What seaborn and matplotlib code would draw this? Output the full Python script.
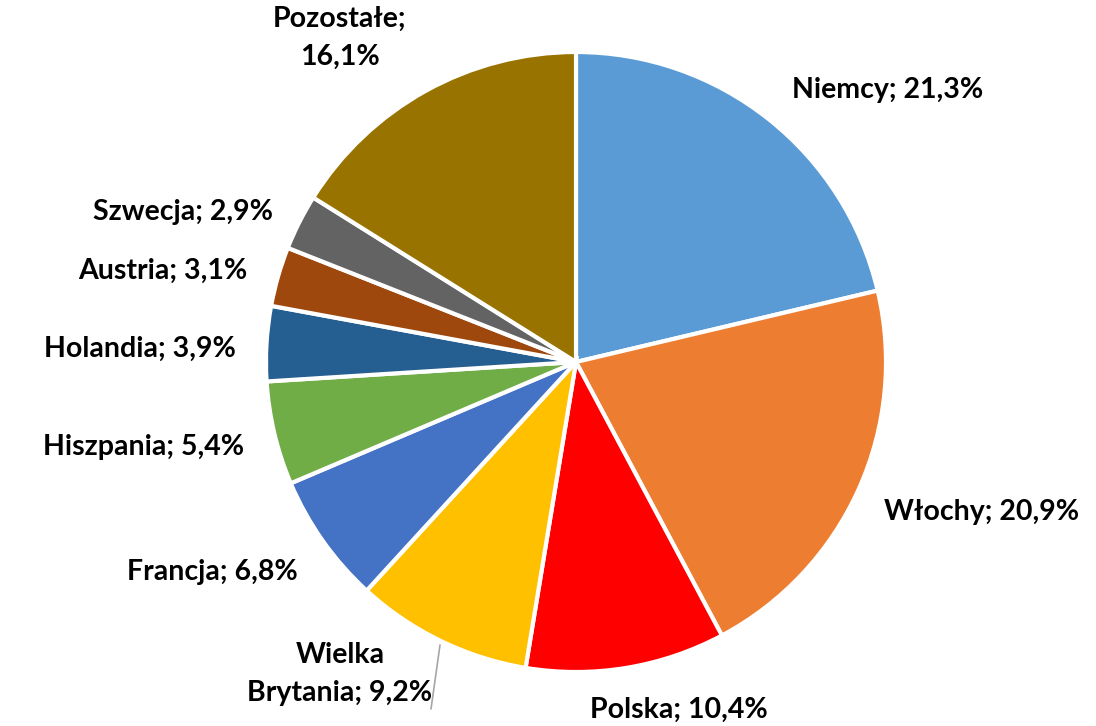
import matplotlib
matplotlib.use("Agg")
import matplotlib.pyplot as plt
import seaborn as sns

countries = ['Niemcy', 'Włochy', 'Polska', 'Wielka\nBrytania', 'Francja',
             'Hiszpania', 'Holandia', 'Austria', 'Szwecja', 'Pozostałe;\n']
shares = [21.3, 20.9, 10.4, 9.2, 6.8, 5.4, 3.9, 3.1, 2.9, 16.1]
colors = ['#5B9BD5', '#ED7D31', '#FF0000', '#FFC000', '#4472C4',
          '#70AD47', '#255E91', '#9E480E', '#636363', '#997300']

# label anchor points in pixel units of the figure (y from bottom)
label_pos = [(888, 636), (982, 214), (679, 16), (340, 52), (212, 154),
             (144, 279), (140, 377), (163, 455), (183, 514), (340, 688)]

sns.set_theme(style='white')
plt.rcParams['font.family'] = ['Lato', 'DejaVu Sans']

fig = plt.figure(figsize=(10.96, 7.26), dpi=100)
ax = fig.add_axes([0, 0, 1, 1])

cx, cy, r = 576, 364, 310
ax.pie(shares, colors=colors, startangle=90, counterclock=False,
       center=(cx, cy), radius=r, frame=True,
       wedgeprops=dict(edgecolor='white', linewidth=3))
ax.set_xlim(0, 1096)
ax.set_ylim(0, 726)
ax.set_aspect('equal')
ax.axis('off')

for name, val, (x, y) in zip(countries, shares, label_pos):
    num = f'{val:.1f}'.replace('.', ',') + '%'
    if name.endswith('\n'):
        txt = name + num
    else:
        txt = name + '; ' + num
    ax.text(x, y, txt, ha='center', va='center', fontsize=20.5,
            fontweight='bold', color='black', linespacing=1.55)

# leader line for Wielka Brytania
ax.plot([440, 431], [81, 17], color='#A6A6A6', linewidth=1.2)

fig.savefig('out.png', dpi=100, facecolor='white')
